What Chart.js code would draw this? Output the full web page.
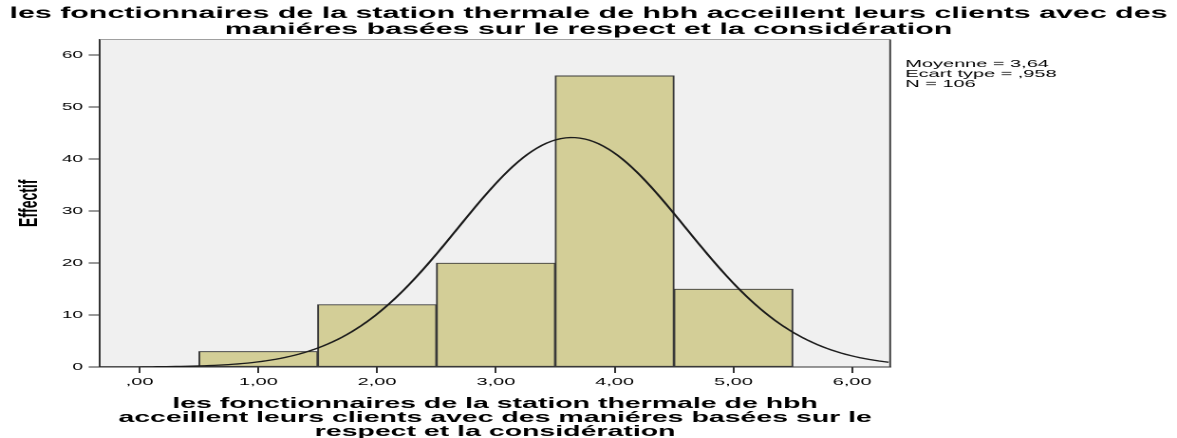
<!DOCTYPE html>
<html>
<head>
<meta charset="utf-8">
<script src="https://cdn.jsdelivr.net/npm/chart.js@4/dist/chart.umd.min.js"></script>
<style>
  html, body { margin: 0; padding: 0; background: #ffffff; overflow: hidden; }
  #wrap { width: 1177px; height: 438px; overflow: hidden; }
  canvas { display: block; transform-origin: 0 0; }
</style>
</head>
<body>
<div id="wrap"><canvas id="hist" width="620" height="438"></canvas></div>
<script>
// ---- data ----
const titleLines = [
  'les fonctionnaires de la station thermale de hbh acceillent leurs clients avec des',
  'maniéres basées sur le respect et la considération'
];
const xTitleLines = [
  'les fonctionnaires de la station thermale de hbh',
  'acceillent leurs clients avec des maniéres basées sur le',
  'respect et la considération'
];
const yTitle = 'Effectif';
const binCenters = [1, 2, 3, 4, 5];
const binCounts = [3, 12, 20, 56, 15];
const xTickValues = [0, 1, 2, 3, 4, 5, 6];
const yTickValues = [0, 10, 20, 30, 40, 50, 60];
const statMean = 3.64;
const statSd = 0.958;
const statN = 106;
const binWidth = 1;

// ---- helpers ----
// decimal comma, no leading zero (",00", "1,00", ",958")
function fmt(v, d) {
  return v.toFixed(d).replace('.', ',').replace(/^0,/, ',');
}

const W = 620, H = 438;
const SX = 1177 / W;          // horizontal stretch of the whole drawing
const X_MIN = -0.333, X_MAX = 6.32;
const Y_MAX = 63;

// fitted normal curve from the stated mean / sd / N
const curve = [];
for (let x = X_MIN; x <= X_MAX + 1e-9; x += 0.04) {
  const z = (x - statMean) / statSd;
  curve.push({ x: x, y: statN * binWidth * Math.exp(-0.5 * z * z) / (statSd * Math.sqrt(2 * Math.PI)) });
}

const statLines = [
  'Moyenne = ' + fmt(statMean, 2),
  'Ecart type = ' + fmt(statSd, 3),
  'N = ' + statN
];

const FONT = '"Liberation Sans", Arial, Helvetica, sans-serif';

const frame = {
  id: 'frame',
  beforeDraw(chart) {
    const { ctx, chartArea: a } = chart;
    ctx.save();
    ctx.fillStyle = '#f0f0f0';
    ctx.fillRect(a.left, a.top, a.right - a.left, a.bottom - a.top);
    ctx.restore();
  },
  afterDraw(chart) {
    const { ctx, chartArea: a } = chart;
    ctx.save();
    // top and right edges of the plot frame
    ctx.lineWidth = 1;
    ctx.strokeStyle = '#a0a0a0';
    ctx.beginPath();
    ctx.moveTo(a.left, a.top);
    ctx.lineTo(a.right, a.top);
    ctx.stroke();
    ctx.strokeStyle = '#404040';
    ctx.beginPath();
    ctx.moveTo(a.right, a.top);
    ctx.lineTo(a.right, a.bottom);
    ctx.stroke();

    ctx.fillStyle = '#000000';
    // main title
    ctx.font = 'bold 16px ' + FONT;
    ctx.textAlign = 'center';
    ctx.textBaseline = 'alphabetic';
    titleLines.forEach((t, i) => ctx.fillText(t, W / 2, 18 + i * 16));

    // x axis title
    const cx = (a.left + a.right) / 2;
    ctx.font = 'bold 15px ' + FONT;
    xTitleLines.forEach((t, i) => ctx.fillText(t, cx, 408 + i * 14));

    // y axis title
    ctx.save();
    ctx.translate(15.8, (a.top + a.bottom) / 2);
    ctx.rotate(-Math.PI / 2);
    ctx.font = 'bold 14px ' + FONT;
    ctx.textAlign = 'center';
    ctx.textBaseline = 'middle';
    ctx.fillText(yTitle, 0, 0);
    ctx.restore();

    // summary statistics
    ctx.font = '10.5px ' + FONT;
    ctx.textAlign = 'left';
    ctx.textBaseline = 'middle';
    statLines.forEach((t, i) => ctx.fillText(t, a.right + 8, 64 + i * 10));
    ctx.restore();
  }
};

const canvas = document.getElementById('hist');
new Chart(canvas, {
  type: 'bar',
  data: {
    datasets: [
      {
        type: 'line',
        data: curve,
        borderColor: '#1c1c1c',
        borderWidth: 1.3,
        pointRadius: 0,
        tension: 0,
        fill: false,
        order: 0
      },
      {
        type: 'bar',
        data: binCenters.map((c, i) => ({ x: c, y: binCounts[i] })),
        backgroundColor: '#d3ce97',
        borderColor: '#3a3a3a',
        borderWidth: 1,
        borderSkipped: false,
        barPercentage: 1,
        categoryPercentage: 1,
        order: 1
      }
    ]
  },
  options: {
    responsive: false,
    devicePixelRatio: 2,
    animation: false,
    events: [],
    layout: { padding: { left: 0, right: W - 468.9, top: 39.5, bottom: 0 } },
    plugins: { legend: { display: false }, tooltip: { enabled: false }, title: { display: false } },
    scales: {
      x: {
        type: 'linear',
        offset: false,
        min: X_MIN,
        max: X_MAX,
        afterBuildTicks(s) { s.ticks = xTickValues.map(v => ({ value: v })); },
        afterFit(s) { s.height = H - 367; },
        ticks: {
          autoSkip: false,
          maxRotation: 0,
          padding: 3,
          color: '#000000',
          font: { family: FONT, size: 10.5 },
          callback: v => fmt(v, 2)
        },
        grid: { offset: false, drawOnChartArea: false, drawTicks: true, tickLength: 6, tickColor: '#333333', tickWidth: 1 },
        border: { display: true, color: '#333333', width: 1 }
      },
      y: {
        type: 'linear',
        min: 0,
        max: Y_MAX,
        afterBuildTicks(s) { s.ticks = yTickValues.map(v => ({ value: v })); },
        afterFit(s) { s.width = 52.7; },
        ticks: {
          padding: 3,
          color: '#000000',
          font: { family: FONT, size: 10 },
          callback: v => String(v)
        },
        grid: { drawOnChartArea: false, drawTicks: true, tickLength: 6, tickColor: '#333333', tickWidth: 1 },
        border: { display: true, color: '#333333', width: 1 }
      }
    }
  },
  plugins: [frame]
});
canvas.style.transform = 'scaleX(' + SX + ')';
</script>
</body>
</html>
